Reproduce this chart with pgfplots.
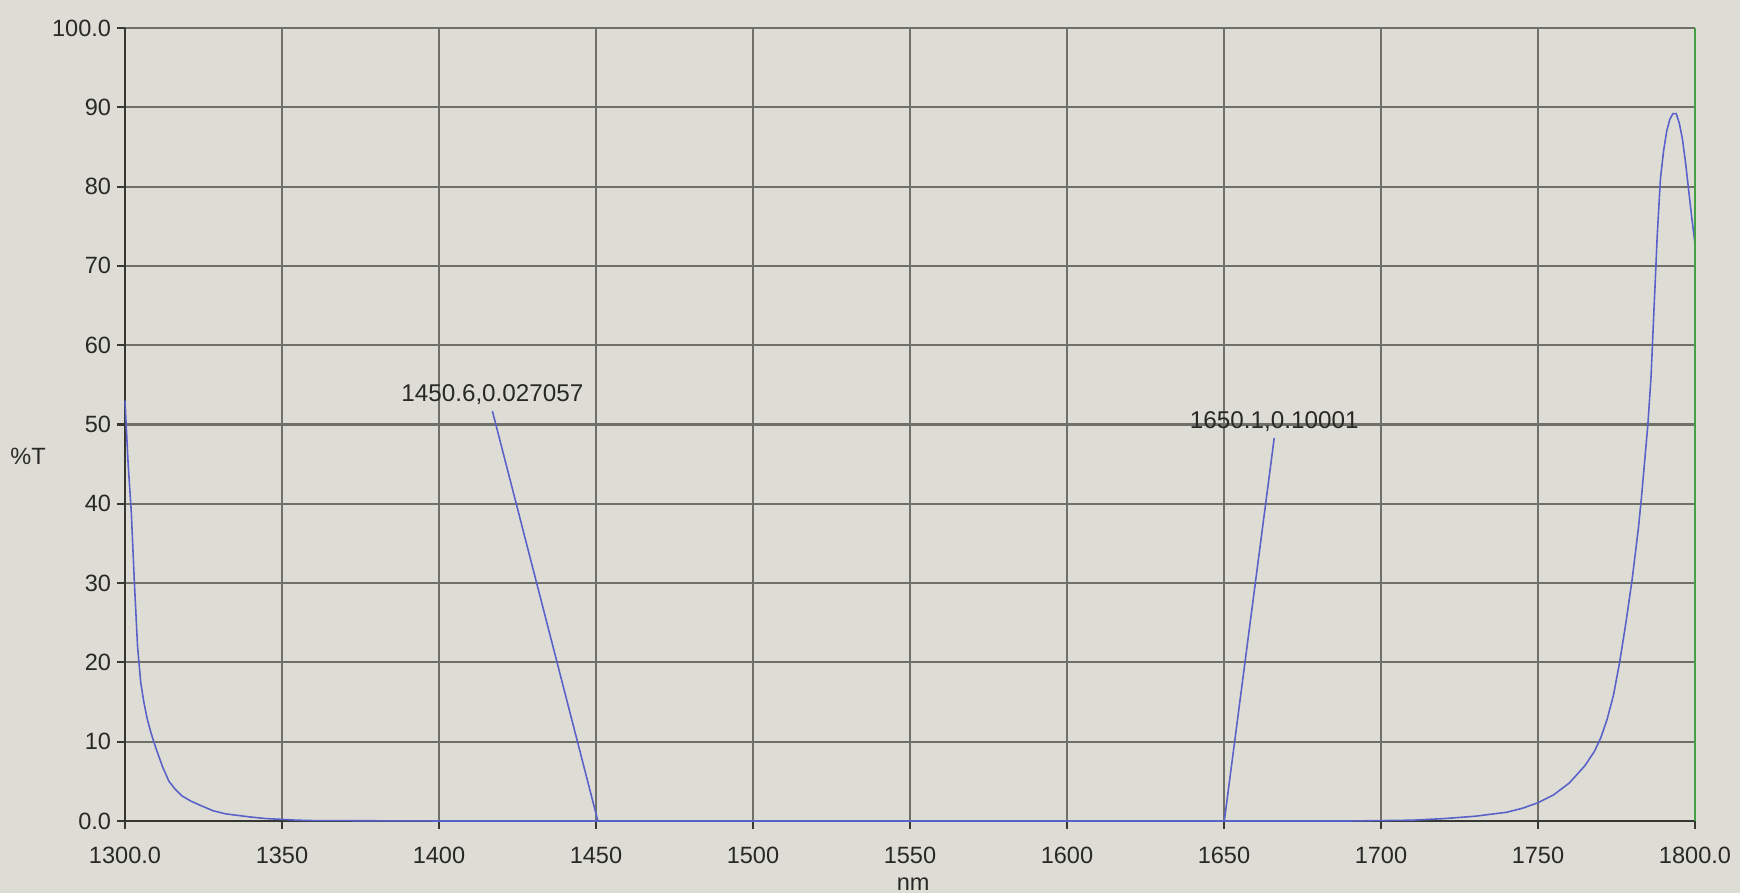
\documentclass[border=0pt]{standalone}
\usepackage{fontspec}
\setmainfont{Liberation Sans}
\usepackage{pgfplots}
\pgfplotsset{compat=1.18}

\definecolor{bgpaper}{RGB}{222,221,213}
\definecolor{gridgray}{RGB}{112,112,106}
\definecolor{axisdark}{RGB}{55,55,50}
\definecolor{traceblue}{RGB}{88,98,200}
\definecolor{edgegreen}{RGB}{70,160,70}
\definecolor{labelgray}{RGB}{40,40,38}

\begin{document}
\begin{tikzpicture}
\fill[bgpaper] (-1.25,-0.72) rectangle (16.15,8.21);
\useasboundingbox (-1.25,-0.72) rectangle (16.15,8.21);

\begin{axis}[
    at={(0,0)}, anchor=south west,
    scale only axis,
    width=15.70cm, height=7.93cm,
    xmin=1300, xmax=1800, ymin=0, ymax=100,
    axis lines=left,
    axis line style={axisdark,line width=0.8pt,-},
    grid=major,
    major grid style={gridgray,line width=0.6pt},
    xtick={1300,1350,...,1800},
    xticklabels={1300.0,1350,1400,1450,1500,1550,1600,1650,1700,1750,1800.0},
    ytick={0,10,...,100},
    yticklabels={0.0,10,20,30,40,50,60,70,80,90,100.0},
    tick align=outside,
    major tick length=0.08cm,
    tick style={axisdark,line width=0.6pt},
    ticklabel style={font=\fontsize{6.7}{8}\selectfont,color=labelgray},
    xticklabel style={yshift=-0.06cm},
    yticklabel style={inner sep=1.5pt},
    /pgf/number format/assume math mode=true,
    clip=false,
  ]
  % measured trace
  \addplot[traceblue,line width=0.45pt] coordinates {
    (1300,53) (1301,45) (1302,39) (1303,30) (1304,22) (1305,17.5)
    (1306,15) (1307,13) (1308,11.5) (1309,10.2) (1310,9) (1312,6.8)
    (1314,5) (1316,4) (1318,3.2) (1321,2.5) (1325,1.8) (1328,1.3)
    (1332,0.9) (1336,0.7) (1340,0.5) (1345,0.3) (1350,0.2) (1355,0.1)
    (1360,0.05) (1400,0) (1450,0) (1500,0) (1550,0) (1600,0) (1650,0)
    (1690,0) (1700,0.05) (1710,0.1) (1720,0.3) (1730,0.6) (1740,1.1)
    (1745,1.6) (1750,2.3) (1755,3.3) (1760,4.8) (1765,7.0) (1768,8.8)
    (1770,10.5) (1772,12.8) (1774,15.8) (1776,20) (1778,25) (1780,30.5)
    (1782,37) (1783,41) (1784,45.5) (1785,50) (1786,56) (1787,65)
    (1788,74) (1789,81) (1790,84.5) (1791,87) (1792,88.5) (1793,89.2)
    (1794,89.2) (1795,88) (1796,86) (1797,83) (1798,79.5) (1799,76)
    (1800,72.8)};
  % cursor leaders
  \addplot[traceblue,line width=0.45pt] coordinates {(1417,51.7) (1450.6,0)};
  \addplot[traceblue,line width=0.45pt] coordinates {(1666,48.3) (1650.1,0)};
  \node[anchor=south,inner sep=0pt,font=\fontsize{6.9}{8}\selectfont,labelgray]
    at (axis cs:1417,52.4) {1450.6,0.027057};
  \node[anchor=south,inner sep=0pt,font=\fontsize{6.9}{8}\selectfont,labelgray]
    at (axis cs:1666,49.0) {1650.1,0.10001};
  \draw[edgegreen,line width=0.7pt] (axis cs:1800,0) -- (axis cs:1800,100);
  \node[font=\fontsize{6.7}{8}\selectfont,labelgray] at (rel axis cs:0,0.46) [xshift=-0.97cm] {\%T};
  \node[anchor=north,inner sep=0pt,font=\fontsize{6.7}{8}\selectfont,labelgray] at (rel axis cs:0.502,0) [yshift=-0.56cm] {nm};
\end{axis}
\end{tikzpicture}
\end{document}
